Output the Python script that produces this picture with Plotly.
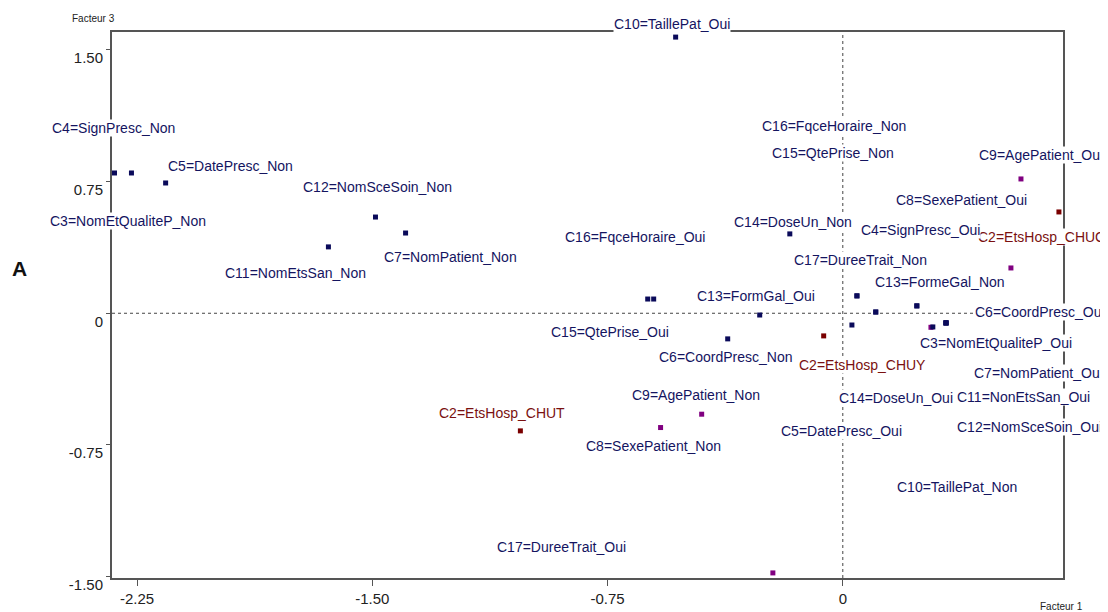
import plotly.graph_objects as go

# ---- data (Facteur 1 / Facteur 3 coordinates) ----
categories = [
    "C4=SignPresc_Non", "C3=NomEtQualiteP_Non", "C5=DatePresc_Non", "C12=NomSceSoin_Non",
    "C11=NomEtsSan_Non", "C7=NomPatient_Non", "C10=TaillePat_Oui", "C16=FqceHoraire_Oui",
    "C15=QtePrise_Oui", "C13=FormGal_Oui", "C6=CoordPresc_Non", "C14=DoseUn_Non",
    "C2=EtsHosp_CHUT", "C9=AgePatient_Non", "C8=SexePatient_Non", "C17=DureeTrait_Oui",
    "C2=EtsHosp_CHUY", "C9=AgePatient_Oui", "C2=EtsHosp_CHUC", "C8=SexePatient_Oui",
    "C16=FqceHoraire_Non", "C15=QtePrise_Non", "C17=DureeTrait_Non", "C4=SignPresc_Oui",
    "C13=FormeGal_Non", "C6=CoordPresc_Oui", "C3=NomEtQualiteP_Oui", "C7=NomPatient_Oui",
    "C11=NonEtsSan_Oui", "C12=NomSceSoin_Oui", "C14=DoseUn_Oui", "C10=TaillePat_Non",
    "C5=DatePresc_Oui",
]
facteur1 = [
    -2.322, -2.268, -2.159, -1.490,
    -1.640, -1.394, -0.533, -0.622,
    -0.603, -0.265, -0.367, -0.169,
    -1.028, -0.450, -0.581, -0.223,
    -0.061, 0.568, 0.689, 0.536,
    0.045, 0.045, 0.281, 0.236,
    0.236, 0.329, 0.287, 0.329,
    0.329, 0.329, 0.105, 0.105,
    0.029,
]
facteur3 = [
    0.799, 0.799, 0.742, 0.548,
    0.378, 0.457, 1.573, 0.081,
    0.081, -0.010, -0.146, 0.452,
    -0.670, -0.575, -0.651, -1.479,
    -0.129, 0.765, 0.577, 0.258,
    0.099, 0.099, -0.080, 0.042,
    0.042, -0.055, -0.078, -0.055,
    -0.055, -0.055, 0.007, 0.007,
    -0.067,
]
# label anchor (text centre) for each category
label_x = [
    -2.325, -2.279, -1.953, -1.485,
    -1.745, -1.250, -0.545, -0.663,
    -0.742, -0.278, -0.373, -0.159,
    -1.088, -0.467, -0.603, -0.896,
    0.063, 0.632, 0.635, 0.378,
    -0.027, -0.030, 0.056, 0.247,
    0.311, 0.628, 0.489, 0.624,
    0.577, 0.596, 0.171, 0.364,
    -0.005,
]
label_y = [
    1.055, 0.526, 0.839, 0.719,
    0.230, 0.320, 1.600, 0.434,
    -0.107, 0.099, -0.249, 0.521,
    -0.568, -0.466, -0.756, -1.331,
    -0.295, 0.901, 0.434, 0.645,
    1.066, 0.912, 0.304, 0.474,
    0.178, 0.007, -0.169, -0.340,
    -0.477, -0.647, -0.482, -0.989,
    -0.670,
]
# extra vertical pixel shift for labels sitting on the frame
label_yshift = [0] * len(categories)
label_yshift[6] = 8

x_ticks = [-2.25, -1.50, -0.75, 0]
x_ticktext = ["-2.25", "-1.50", "-0.75", "0"]
y_ticks = [-1.50, -0.75, 0, 0.75, 1.50]
y_ticktext = ["-1.50", "-0.75", "0", "0.75", "1.50"]

FONT = "Liberation Sans, Arial, sans-serif"
NAVY = "#0a0a5a"
PURPLE = "#800080"
DARKRED = "#7a0000"
TEXT_NAVY = "#14145f"
TEXT_RED = "#7a1010"


def point_color(lab):
    v = lab.split("=")[0]
    if v == "C2":
        return DARKRED
    if v in ("C8", "C9", "C17"):
        return PURPLE
    return NAVY


# page body has an 8px margin: size the figure so the plot lands where the reference has it
OFF = 8
W, H = 1108 - OFF, 612 - OFF
L, R, T, B = 112 - OFF, 45, 32 - OFF, 34
pw, ph = W - L - R, H - T - B


def px_x(x):  # window pixel -> paper fraction
    return (x - OFF - L) / pw


def px_y(y):
    return 1 - (y - OFF - T) / ph


fig = go.Figure()
for col in (PURPLE, DARKRED, NAVY):
    xs = [x for x, l in zip(facteur1, categories) if point_color(l) == col]
    ys = [y for y, l in zip(facteur3, categories) if point_color(l) == col]
    fig.add_trace(go.Scatter(
        x=xs, y=ys, mode="markers",
        marker=dict(symbol="square", size=5, color=col, line=dict(width=0)),
        showlegend=False, hoverinfo="skip", cliponaxis=False,
    ))

# dashed zero lines
fig.add_shape(type="line", xref="x", yref="paper", x0=0, x1=0, y0=0, y1=1,
              line=dict(color="#444444", width=1, dash="dot"), layer="below")
fig.add_shape(type="line", xref="paper", yref="y", x0=0, x1=1, y0=0, y1=0,
              line=dict(color="#444444", width=1, dash="dot"), layer="below")

for lab, lx, ly, ys in zip(categories, label_x, label_y, label_yshift):
    fig.add_annotation(
        x=lx, y=ly, xref="x", yref="y", text=lab, showarrow=False, yshift=ys,
        font=dict(family=FONT, size=14, color=TEXT_RED if lab.startswith("C2=") else TEXT_NAVY),
        bgcolor="white", borderpad=0, xanchor="center", yanchor="middle",
    )

fig.add_annotation(text="Facteur 3", xref="paper", yref="paper",
                   x=px_x(70), y=px_y(18), xanchor="left", yanchor="middle", showarrow=False,
                   font=dict(family=FONT, size=10, color="#222"))
fig.add_annotation(text="<b>A</b>", xref="paper", yref="paper",
                   x=px_x(19), y=px_y(268), xanchor="center", yanchor="middle", showarrow=False,
                   font=dict(family=FONT, size=21, color="#111"))
fig.add_annotation(text="Facteur 1", xref="paper", yref="paper",
                   x=px_x(1038), y=px_y(606), xanchor="left", yanchor="middle", showarrow=False,
                   font=dict(family=FONT, size=10, color="#222"))

fig.update_layout(
    width=W, height=H,
    margin=dict(l=L, r=R, t=T, b=B, autoexpand=False),
    paper_bgcolor="white", plot_bgcolor="white",
    font=dict(family=FONT, size=15, color="#222"),
    xaxis=dict(range=[-2.33, 0.702], tickvals=x_ticks, ticktext=x_ticktext, automargin=False,
               showgrid=False, zeroline=False, showline=True, linecolor="#555",
               linewidth=2, mirror=True, ticks="outside", ticklen=6, tickcolor="#555",
               tickfont=dict(family=FONT, size=15, color="#222")),
    yaxis=dict(range=[-1.508, 1.602], tickvals=y_ticks, ticktext=y_ticktext, automargin=False,
               showgrid=False, zeroline=False, showline=True, linecolor="#555",
               linewidth=2, mirror=True, ticks="outside", ticklen=4, tickcolor="#555",
               ticklabelshift=8,
               tickfont=dict(family=FONT, size=15, color="#222")),
)

fig.write_html("out.html")
